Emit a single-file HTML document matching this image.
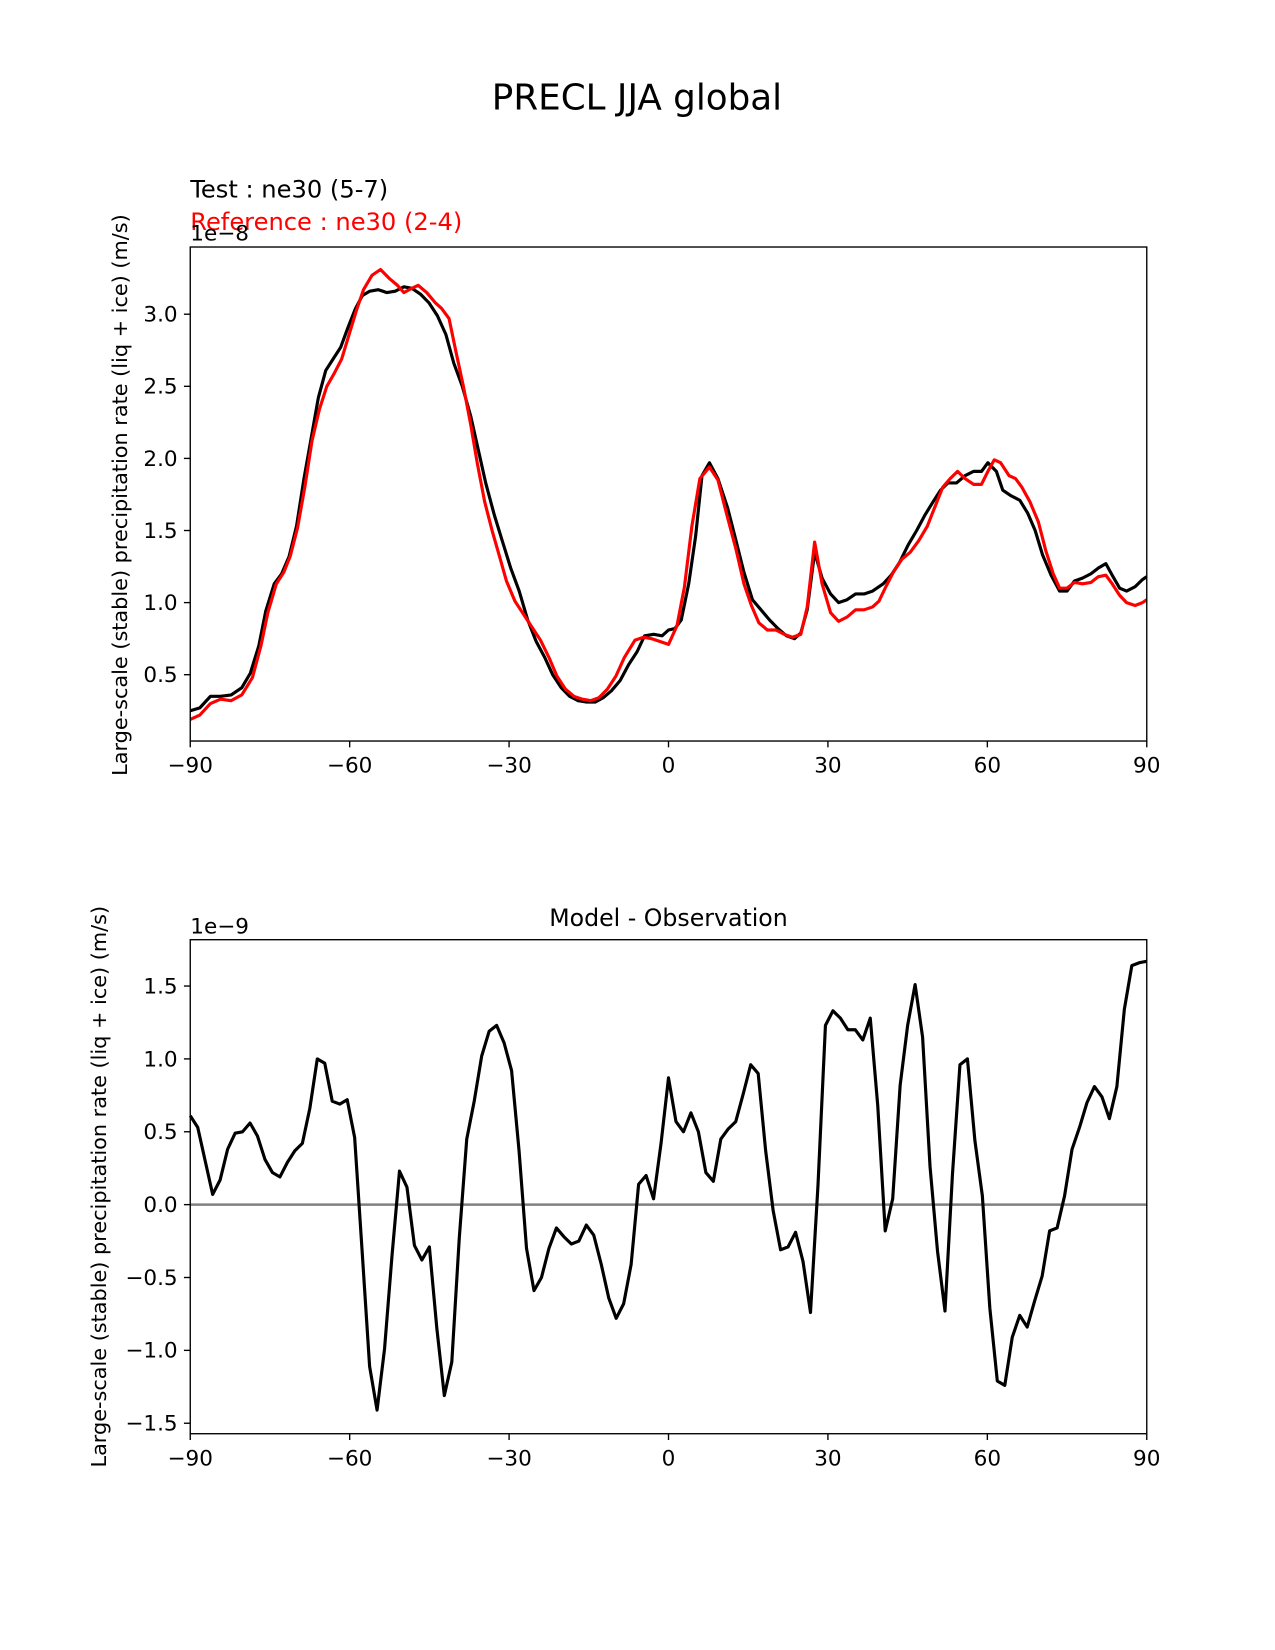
<!DOCTYPE html>
<html><head><meta charset="utf-8"><style>
html,body{margin:0;padding:0;background:#fff;}
svg{display:block;font-family:"DejaVu Sans","Liberation Sans",sans-serif;}
</style></head><body>
<svg id="fig" width="1275" height="1650" viewBox="0 0 1213 1569.76" preserveAspectRatio="none" xmlns="http://www.w3.org/2000/svg">
<rect width="1213" height="1570" fill="#fff"/>
<text x="606" y="104" font-size="34" text-anchor="middle">PRECL JJA global</text>
<text x="181" y="188" font-size="23">Test : ne30 (5-7)</text>
<text x="181" y="219" font-size="23" fill="#ff0000">Reference : ne30 (2-4)</text>
<text x="181" y="229" font-size="20.5">1e−8</text>
<text transform="translate(121,471) rotate(-90)" font-size="19.8" text-anchor="middle">Large-scale (stable) precipitation rate (liq + ice) (m/s)</text>
<g id="top"></g>
<text x="636" y="881" font-size="22.5" text-anchor="middle">Model - Observation</text>
<text x="181" y="888" font-size="20.5">1e−9</text>
<text transform="translate(101,1129) rotate(-90)" font-size="19.8" text-anchor="middle">Large-scale (stable) precipitation rate (liq + ice) (m/s)</text>
<g id="bot"></g>
</svg>
<script>
const testLat=[-90,-88.2,-86.2,-84.3,-82.3,-80.3,-78.7,-77.1,-75.8,-74.2,-72.8,-71.4,-70,-68.6,-67.2,-65.9,-64.5,-63.1,-61.7,-60.3,-58.9,-57.6,-56.2,-54.6,-53,-51.4,-49.8,-48.3,-46.7,-45.1,-43.5,-41.9,-40.4,-38.8,-37.2,-35.8,-34.4,-32.8,-31.3,-29.7,-28.1,-26.5,-24.9,-23.3,-21.8,-20.2,-18.6,-17,-15.4,-13.8,-12.3,-10.7,-9.1,-7.5,-5.9,-4.5,-2.8,-1.2,0,1.2,2.4,3.8,5.1,6.3,7.7,9.3,11.1,12.7,14.2,15.8,17.4,19,20.6,22.2,23.7,24.9,26.1,27.5,28.9,30.5,32,33.6,35.2,36.8,38.4,40.4,41.9,43.5,45.1,46.7,48.3,49.8,51.2,52.6,54.2,55.8,57.4,58.9,60.1,61.7,62.9,64.5,66.1,67.6,69,70.4,72,73.6,75,76.4,77.9,79.5,80.9,82.3,83.5,84.9,86.2,87.8,89.2,90];
const testVals=[0.25,0.27,0.35,0.35,0.36,0.41,0.51,0.70,0.94,1.13,1.20,1.32,1.53,1.86,2.15,2.42,2.61,2.69,2.77,2.91,3.04,3.13,3.16,3.17,3.15,3.16,3.19,3.18,3.14,3.08,2.99,2.86,2.66,2.50,2.29,2.06,1.83,1.61,1.43,1.24,1.08,0.88,0.73,0.62,0.50,0.41,0.35,0.32,0.31,0.31,0.34,0.39,0.46,0.57,0.66,0.77,0.78,0.77,0.81,0.82,0.88,1.13,1.46,1.88,1.97,1.86,1.66,1.43,1.21,1.02,0.95,0.88,0.82,0.77,0.75,0.79,0.95,1.35,1.17,1.06,1.00,1.02,1.06,1.06,1.08,1.13,1.19,1.28,1.40,1.50,1.61,1.70,1.78,1.83,1.83,1.88,1.91,1.91,1.97,1.91,1.78,1.74,1.71,1.62,1.50,1.33,1.19,1.08,1.08,1.15,1.17,1.20,1.24,1.27,1.19,1.10,1.08,1.11,1.16,1.18];
const refLat=[-90,-88.2,-86.2,-84.3,-82.3,-80.3,-78.3,-76.7,-75.4,-73.8,-72.4,-71.2,-69.8,-68.4,-67.1,-65.7,-64.3,-62.9,-61.5,-60.1,-58.7,-57.4,-55.8,-54.2,-52.6,-51,-49.8,-48.3,-47.1,-45.5,-43.9,-42.7,-41.3,-40,-38.6,-37.2,-36,-34.6,-33.2,-31.8,-30.5,-28.9,-27.3,-25.7,-24.1,-22.5,-21,-19.4,-17.8,-16.2,-14.6,-13.1,-11.5,-9.9,-8.3,-6.3,-4.7,-3.2,-1.6,0,1.6,3,4.4,5.9,7.7,9.3,10.9,12.7,14.2,15.6,17,18.6,20.2,21.8,23.3,24.9,26.1,27.5,28.9,30.5,32,33.6,35.2,36.8,38.4,39.6,40.9,42.3,43.9,45.5,47.1,48.7,50.2,51.6,53,54.4,55.8,57.4,58.9,60.1,61.3,62.5,64.1,65.3,66.5,68,69.6,71,72.4,73.6,75,76.4,77.9,79.5,80.9,82.3,83.5,84.9,86.2,87.8,89.2,90];
const refVals=[0.19,0.22,0.30,0.33,0.32,0.36,0.48,0.70,0.93,1.13,1.21,1.32,1.52,1.81,2.12,2.34,2.50,2.59,2.69,2.86,3.03,3.17,3.27,3.31,3.25,3.20,3.15,3.18,3.20,3.15,3.08,3.04,2.97,2.74,2.50,2.23,1.97,1.70,1.50,1.32,1.15,1.01,0.92,0.83,0.74,0.62,0.49,0.40,0.35,0.33,0.32,0.34,0.40,0.49,0.62,0.74,0.76,0.75,0.73,0.71,0.84,1.11,1.53,1.86,1.94,1.85,1.62,1.37,1.13,0.98,0.86,0.81,0.81,0.78,0.76,0.78,0.97,1.42,1.13,0.93,0.87,0.90,0.95,0.95,0.97,1.01,1.11,1.21,1.30,1.35,1.43,1.53,1.67,1.80,1.86,1.91,1.86,1.82,1.82,1.91,1.99,1.97,1.88,1.86,1.80,1.70,1.56,1.36,1.20,1.10,1.10,1.14,1.13,1.14,1.18,1.19,1.13,1.05,1.00,0.98,1.00,1.02];
const diffVals=[0.61,0.53,0.30,0.07,0.17,0.38,0.49,0.50,0.56,0.47,0.31,0.22,0.19,0.29,0.37,0.42,0.66,1.00,0.97,0.71,0.69,0.72,0.46,-0.32,-1.11,-1.41,-0.99,-0.35,0.23,0.12,-0.28,-0.38,-0.29,-0.85,-1.31,-1.08,-0.23,0.45,0.71,1.02,1.19,1.23,1.11,0.92,0.37,-0.30,-0.59,-0.50,-0.30,-0.16,-0.22,-0.27,-0.25,-0.14,-0.21,-0.41,-0.64,-0.78,-0.68,-0.41,0.14,0.20,0.04,0.42,0.87,0.57,0.50,0.63,0.50,0.22,0.16,0.45,0.52,0.57,0.76,0.96,0.90,0.37,-0.04,-0.31,-0.29,-0.19,-0.39,-0.74,0.13,1.23,1.33,1.28,1.20,1.20,1.13,1.28,0.68,-0.18,0.04,0.82,1.23,1.51,1.15,0.26,-0.32,-0.73,0.21,0.96,1.00,0.44,0.06,-0.71,-1.21,-1.24,-0.91,-0.76,-0.84,-0.66,-0.49,-0.18,-0.16,0.06,0.38,0.53,0.70,0.81,0.74,0.59,0.81,1.34,1.64,1.66,1.67];
const xTicks=[-90,-60,-30,0,30,60,90];
const xTickLabels=["−90","−60","−30","0","30","60","90"];
const topYTicks=[0.5,1.0,1.5,2.0,2.5,3.0];
const topYTickLabels=["0.5","1.0","1.5","2.0","2.5","3.0"];
const botYTicks=[-1.5,-1.0,-0.5,0.0,0.5,1.0,1.5];
const botYTickLabels=["−1.5","−1.0","−0.5","0.0","0.5","1.0","1.5"];

const NS="http://www.w3.org/2000/svg";
function mk(tag,attrs,parent){const e=document.createElementNS(NS,tag);for(const k in attrs)e.setAttribute(k,attrs[k]);parent.appendChild(e);return e;}
function axes(g,L,R,T,B,ymin,ymax,yt,ytl,prefix){
  const sx=v=>L+(v+90)/180*(R-L);
  const sy=v=>B-(v-ymin)/(ymax-ymin)*(B-T);
  xTicks.forEach((t,i)=>{
    const ln=mk('line',{x1:sx(t),x2:sx(t),y1:B,y2:B+6,stroke:'#000','stroke-width':1.3},g);
    
    
    const tx=mk('text',{x:sx(t),y:B+30,'font-size':20.5,'text-anchor':'middle'},g);
    tx.textContent=xTickLabels[i];
    
    
  });
  yt.forEach((t,i)=>{
    const ln=mk('line',{x1:L-6,x2:L,y1:sy(t),y2:sy(t),stroke:'#000','stroke-width':1.3},g);
    
    
    const tx=mk('text',{x:L-12,y:sy(t)+7,'font-size':20.5,'text-anchor':'end'},g);
    tx.textContent=ytl[i];
    
    
  });
  return {sx,sy};
}
function line(g,lats,vals,sx,sy,color,name){
  const d=vals.map((v,i)=>(i?'L':'M')+sx(lats[i]).toFixed(2)+','+sy(v).toFixed(2)).join('');
  const p=mk('path',{d:d,fill:'none',stroke:color,'stroke-width':3,'stroke-linejoin':'round'},g);
  
  
}
function frame(g,L,R,T,B,prefix){
  const r=mk('rect',{x:L,y:T,width:R-L,height:B-T,fill:'none',stroke:'#000','stroke-width':1.3},g);
  
  
}
const gt=document.getElementById('top');


const A=axes(gt,181,1091,235,705,0.04,3.466,topYTicks,topYTickLabels,'top');
line(gt,testLat,testVals,A.sx,A.sy,'#000','test-line');
line(gt,refLat,refVals,A.sx,A.sy,'#ff0000','reference-line');
frame(gt,181,1091,235,705,'top');
const gb=document.getElementById('bot');


const B=axes(gb,181,1091,894,1364,-1.572,1.818,botYTicks,botYTickLabels,'bottom');
const z=mk('line',{x1:181,x2:1091,y1:B.sy(0),y2:B.sy(0),stroke:'#808080','stroke-width':2.4},gb);


const diffLat=diffVals.map((v,i)=>-90+i*180/(diffVals.length-1));
line(gb,diffLat,diffVals,B.sx,B.sy,'#000','difference-line');
frame(gb,181,1091,894,1364,'bottom');
</script>
</body></html>
